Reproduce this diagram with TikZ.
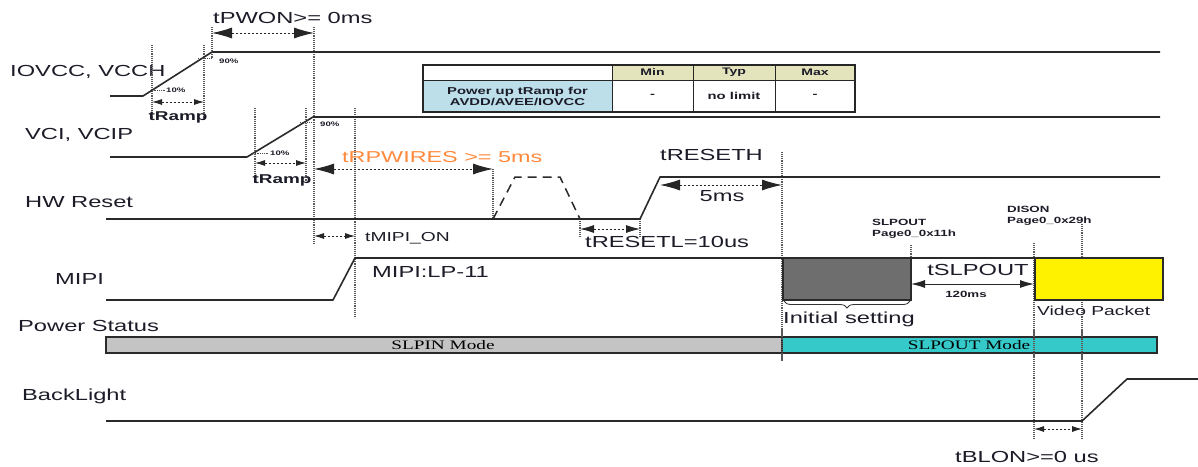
\documentclass[tikz,border=0pt]{standalone}
\usepackage{fontspec}
\setmainfont[FakeStretch=1.48]{Liberation Sans}
\newfontfamily\serifw[FakeStretch=1.48]{Liberation Serif}
\usetikzlibrary{arrows.meta,decorations.pathreplacing}
\definecolor{txt}{HTML}{1C1C28}
\definecolor{sigc}{HTML}{2A2A2A}
\definecolor{orng}{HTML}{FF8A3D}
\definecolor{khaki}{HTML}{E4E4BC}
\definecolor{lblue}{HTML}{BCDFEA}
\definecolor{graybox}{HTML}{6E6E6E}
\definecolor{slpin}{HTML}{C4C4C4}
\definecolor{slpout}{HTML}{35C9C9}
\tikzset{
  sig/.style={line width=1.6pt, draw=sigc, line join=round},
  vdot/.style={densely dotted, line width=1.1pt, draw=black!65},
  hdot/.style={densely dotted, line width=0.8pt, draw=black!70},
  dimline/.style={dash pattern=on 2pt off 2pt, line width=0.9pt, draw=black!85},
  bigdim/.style={dimline, {Latex[length=20pt,width=11pt]}-{Latex[length=20pt,width=11pt]}},
  middim/.style={dimline, {Latex[length=14pt,width=8pt]}-{Latex[length=14pt,width=8pt]}},
  smalldim/.style={dimline, {Latex[length=10pt,width=6pt]}-{Latex[length=10pt,width=6pt]}},
  lab/.style={font=\fontsize{16}{18}\selectfont, text=txt, inner sep=0pt, anchor=west, text height=11.5pt, text depth=0pt},
  labc/.style={font=\fontsize{16}{18}\selectfont, text=txt, inner sep=0pt, anchor=center, text height=11.5pt, text depth=0pt},
  tiny/.style={font=\bfseries\fontsize{6.5}{7}\selectfont, text=txt, inner sep=0pt, anchor=mid west},
  smallb/.style={font=\bfseries\fontsize{9}{11}\selectfont, text=txt, inner sep=0pt, anchor=center, align=left},
  ramp/.style={font=\bfseries\fontsize{12.8}{14}\selectfont, text=txt, inner sep=0pt, anchor=mid},
  cell/.style={draw=black!85, line width=1pt},
  celltxt/.style={font=\bfseries\fontsize{9.5}{11}\selectfont, text=txt, inner sep=0pt, anchor=center, align=center},
  modetxt/.style={font=\serifw\fontsize{13}{14}\selectfont, text=black, inner sep=0pt, anchor=center}
}
\begin{document}
\begin{tikzpicture}[x=1pt,y=-1pt]
\useasboundingbox (0,0) rectangle (1198,466);
\fill[white] (0,0) rectangle (1198,466);

% ---- signal names ----
\node[lab] (nIOVCC) at (10,71) {IOVCC, VCCH};
\node[lab] (nVCI) at (25,134) {VCI, VCIP};
\node[lab] (nHW) at (25,202) {HW Reset};
\node[lab] (nMIPI) at (55,279) {MIPI};
\node[lab] (nPS) at (18,326) {Power Status};
\node[lab] (nBL) at (22,395) {BackLight};

% ---- vertical dotted guides ----
\draw[vdot] (152,45) -- (152,120);
\draw[vdot] (204,45) -- (204,120);
\draw[vdot] (212,27) -- (212,58);
\draw[vdot] (314,27) -- (314,245);
\draw[vdot] (355,108) -- (355,318);
\draw[vdot] (255,108) -- (255,182);
\draw[vdot] (306,108) -- (306,182);
\draw[vdot] (493,169) -- (493,219);
\draw[vdot] (580,219) -- (580,236);
\draw[vdot] (640,219) -- (640,236);
\draw[vdot] (782,152) -- (782,360);
\draw[vdot] (911,245) -- (911,258);
\draw[vdot] (1034,243) -- (1034,440);
\draw[vdot] (1082,224) -- (1082,440);

% ---- table ----
\draw[cell] (423,65) rectangle (612,80);
\draw[cell, fill=khaki] (612,65) rectangle (693,80);
\draw[cell, fill=khaki] (693,65) rectangle (775,80);
\draw[cell, fill=khaki] (775,65) rectangle (855,80);
\draw[cell, fill=lblue] (423,80) rectangle (612,112);
\draw[cell] (612,80) rectangle (693,112);
\draw[cell] (693,80) rectangle (775,112);
\draw[cell] (775,80) rectangle (855,112);
\draw[black!85, line width=1.4pt] (423,65) rectangle (855,112);
\node[celltxt] (tMin) at (652.5,72.5) {Min};
\node[celltxt] (tTyp) at (734,72.5) {Typ};
\node[celltxt] (tMax) at (815,72.5) {Max};
\node[celltxt, font=\bfseries\fontsize{10}{11.5}\selectfont] (tPar) at (517.5,96.5) {Power up tRamp for\\AVDD/AVEE/IOVCC};
\node[celltxt, font=\bfseries\fontsize{10}{12}\selectfont] (tv1) at (652.5,96) {-};
\node[celltxt, font=\bfseries\fontsize{10}{12}\selectfont] (tv2) at (734,96) {no limit};
\node[celltxt, font=\bfseries\fontsize{10}{12}\selectfont] (tv3) at (815,96) {-};

% ---- IOVCC, VCCH ----
\draw[sig] (110,96) -- (143,96) -- (212,52) -- (1160,52);
\draw[hdot] (150,90) -- (165,90);
\node[tiny] (p10a) at (166,90) {10\%};
\draw[hdot] (198,58) -- (212,58);
\node[tiny] (p90a) at (219,61) {90\%};
\coordinate (r1a) at (152,102); \coordinate (r1b) at (204,102);
\draw[smalldim] (r1a) -- (r1b);
\node[ramp] (tr1) at (178,118) {tRamp};
\coordinate (pw1) at (212,33); \coordinate (pw2) at (314,33);
\draw[bigdim] (pw1) -- (pw2);
\node[lab] (tpwon) at (213,18) {tPWON>= 0ms};

% ---- VCI, VCIP ----
\draw[sig] (110,157) -- (247,157) -- (313,117) -- (1160,117);
\draw[hdot] (253,153) -- (268,153);
\node[tiny] (p10b) at (270,153) {10\%};
\draw[hdot] (300,122) -- (313,122);
\node[tiny] (p90b) at (320,124) {90\%};
\coordinate (r2a) at (255,163); \coordinate (r2b) at (306,163);
\draw[smalldim] (r2a) -- (r2b);
\node[ramp] (tr2) at (282,181) {tRamp};

% ---- HW Reset ----
\draw[sig] (106,219) -- (640,219) -- (660,177) -- (1160,177);
\draw[line width=1.5pt, draw=sigc, dash pattern=on 9pt off 6pt] (493,219) -- (515,177) -- (560,177) -- (580,219);
\coordinate (rp1) at (314,169); \coordinate (rp2) at (493,169);
\draw[bigdim] (rp1) -- (rp2);
\node[lab, text=orng, font=\fontsize{15.8}{17}\selectfont] (trp) at (342,157) {tRPWIRES >= 5ms};
\coordinate (mo1) at (314,236); \coordinate (mo2) at (355,236);
\draw[smalldim] (mo1) -- (mo2);
\node[lab, font=\fontsize{13}{15}\selectfont, text height=9.5pt] (tmipion) at (365,237) {tMIPI\_ON};
\coordinate (rl1) at (580,229); \coordinate (rl2) at (640,229);
\draw[middim] (rl1) -- (rl2);
\node[lab] (trl) at (585,242) {tRESETL=10us};
\coordinate (rh1) at (660,185); \coordinate (rh2) at (782,185);
\draw[bigdim] (rh1) -- (rh2);
\node[lab] (trh) at (660,155) {tRESETH};
\node[labc] (t5ms) at (722,196) {5ms};

% ---- MIPI ----
\draw[sig] (106,300) -- (333,300) -- (355,258) -- (1035,258);
\draw[draw=sigc, line width=1.3pt, fill=graybox] (783,258) rectangle (911,300);
\draw[draw=sigc, line width=1.3pt, fill=yellow] (1035,258) rectangle (1163,300);
\node[lab] (tlp) at (372,272) {MIPI:LP-11};
\draw[decorate, decoration={brace, mirror, amplitude=7pt}, line width=0.8pt, draw=black!80] (784,301) -- (910,301);
\node[lab] (tinit) at (783,318) {Initial setting};
\node[lab, font=\fontsize{13}{15}\selectfont, text height=9.5pt] (tvid) at (1037,311) {Video Packet};
\node[smallb, anchor=west] (tslpcmd) at (872,229) {SLPOUT\\Page0\_0x11h};
\node[smallb, anchor=west] (tdison) at (1007,216) {DISON\\Page0\_0x29h};
\coordinate (sl1) at (911,284); \coordinate (sl2) at (1034,284);
\draw[line width=1pt, draw=black!85, {Latex[length=14pt,width=8pt]}-{Latex[length=14pt,width=8pt]}] (sl1) -- (sl2);
\node[labc] (tslp) at (978,270) {tSLPOUT};
\node[smallb] (t120) at (966,294) {120ms};

% ---- Power Status ----
\draw[draw=sigc, line width=1.3pt, fill=slpin] (106,337) rectangle (782,353);
\draw[draw=sigc, line width=1.3pt, fill=slpout] (782,337) rectangle (1157,353);
\node[modetxt] (tslpin) at (443,345) {SLPIN Mode};
\node[modetxt] (tslpout) at (969,345) {SLPOUT Mode};
\draw[vdot] (782,330) -- (782,360);
\draw[vdot] (1034,330) -- (1034,360);
\draw[vdot] (1082,330) -- (1082,360);

% ---- BackLight ----
\draw[sig] (106,421) -- (1082,421) -- (1127,379) -- (1198,379);
\coordinate (bl1) at (1034,429); \coordinate (bl2) at (1082,429);
\draw[smalldim] (bl1) -- (bl2);
\node[lab] (tblon) at (955,457) {tBLON>=0 us};
\end{tikzpicture}
\end{document}
